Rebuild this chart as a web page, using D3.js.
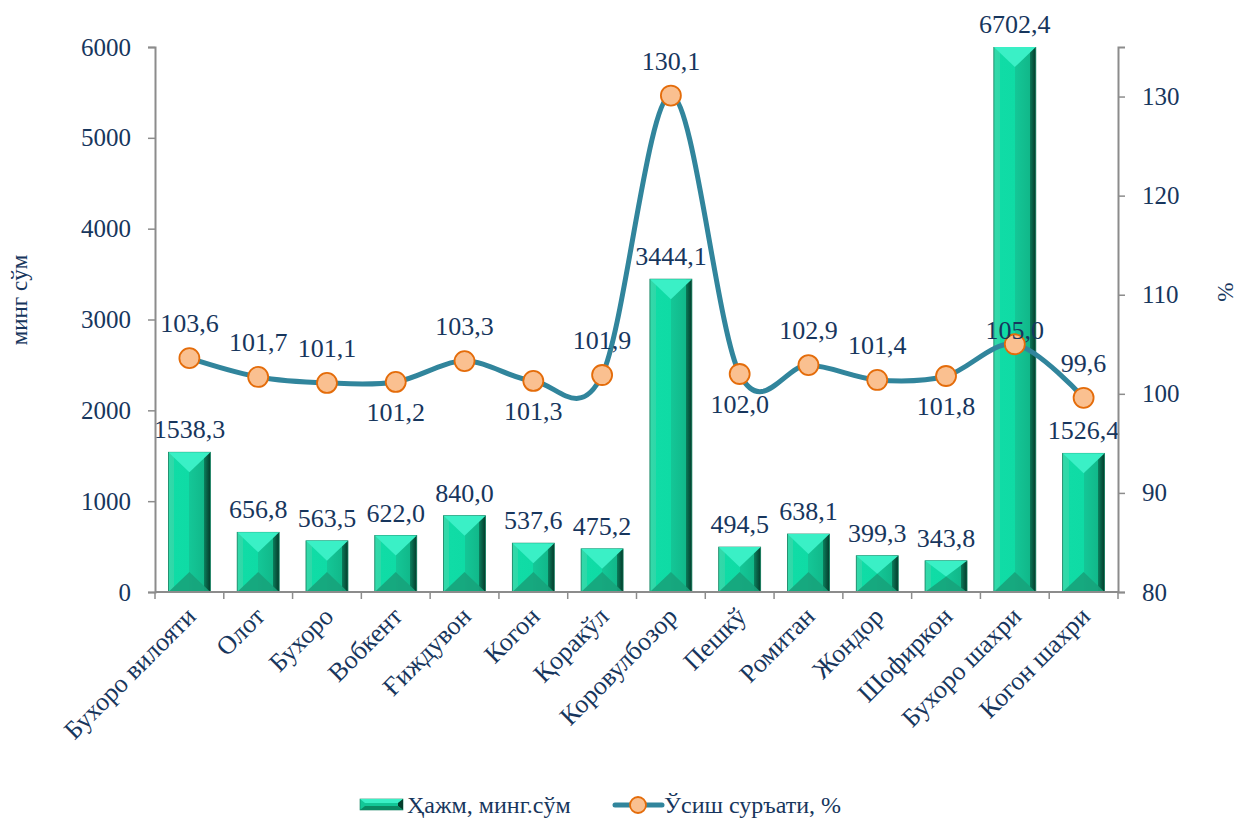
<!DOCTYPE html>
<html>
<head>
<meta charset="utf-8">
<script src="https://cdn.jsdelivr.net/npm/d3@7"></script>
<style>
  body { margin: 0; background: #fff; }
  svg text { font-family: "Liberation Serif", "Times New Roman", serif; fill: #17365d; }
</style>
</head>
<body>
<script>
// Districts (categories)
const districts = ["Бухоро вилояти", "Олот", "Бухоро", "Вобкент", "Ғиждувон", "Когон", "Қоракўл",
  "Коровулбозор", "Пешкў", "Ромитан", "Жондор", "Шофиркон", "Бухоро шахри", "Когон шахри"];

// Volume, thousand sum (bars)
const volume = [1538.3, 656.8, 563.5, 622.0, 840.0, 537.6, 475.2, 3444.1, 494.5, 638.1, 399.3, 343.8, 6702.4, 1526.4];

// Growth rate, % (line)
const growth = [103.6, 101.7, 101.1, 101.2, 103.3, 101.3, 101.9, 130.1, 102.0, 102.9, 101.4, 101.8, 105.0, 99.6];

// where each growth label sits relative to its marker
const growthLabelSide = ["up", "up", "up", "down", "up", "down", "up", "up", "down", "up", "up", "down", "near", "up"];

// Axis ticks
const leftTicks = [0, 1000, 2000, 3000, 4000, 5000, 6000];
const rightTicks = [80, 90, 100, 110, 120, 130];

const width = 1240;
const height = 824;
const margin = { top: 47, right: 122, bottom: 232, left: 155 };
const innerW = width - margin.left - margin.right;
const innerH = height - margin.top - margin.bottom;
const fontFam = "'Liberation Serif', 'Times New Roman', serif";
const textColor = "#17365d";

const svg = d3.select("body")
  .append("svg")
  .attr("width", width)
  .attr("height", height)
  .style("font-family", fontFam);

// gradient for the bevelled bars: light left rim, bright face, darker right half, dark rim
const defs = svg.append("defs");
const face = defs.append("linearGradient").attr("id", "barFace");
[["0%", "#34d9aa"], ["14%", "#2ed8a8"], ["14%", "#10dca6"], ["50%", "#0fdba5"],
 ["50%", "#14c797"], ["85%", "#11b88a"], ["85%", "#0b7e5c"], ["100%", "#043a2a"]]
  .forEach(s => face.append("stop").attr("offset", s[0]).attr("stop-color", s[1]));

defs.append("clipPath").attr("id", "plotClip")
  .append("rect").attr("x", 0).attr("y", 0).attr("width", innerW).attr("height", innerH);

const g = svg.append("g").attr("transform", `translate(${margin.left},${margin.top})`);

const x = d3.scaleBand()
  .domain(districts)
  .range([0, innerW])
  .paddingInner(0.39)
  .paddingOuter(0.195);

const yLeft = d3.scaleLinear().domain([0, 6000]).range([innerH, 0]);
const yRight = d3.scaleLinear().domain([80, 135]).range([innerH, 0]);

// Bars
const barData = districts.map((d, i) => ({ name: d, value: volume[i] }));
const bars = g.append("g").attr("clip-path", "url(#plotClip)")
  .selectAll("g.bar")
  .data(barData)
  .enter()
  .append("g")
  .attr("class", "bar");

bars.append("rect")
  .attr("x", d => x(d.name))
  .attr("y", d => Math.max(yLeft(d.value), 0))
  .attr("width", x.bandwidth())
  .attr("height", d => innerH - Math.max(yLeft(d.value), 0))
  .attr("fill", "url(#barFace)")
  .attr("stroke", "#0a7d5a")
  .attr("stroke-width", 0.8);

// top bevel (bright) and bottom bevel (darker)
const half = x.bandwidth() / 2;
const bevelDepth = d => Math.min(20, (innerH - Math.max(yLeft(d.value), 0)) / 2);
bars.append("path")
  .attr("d", d => {
    const x0 = x(d.name), x1 = x0 + x.bandwidth();
    const top = Math.max(yLeft(d.value), 0);
    return `M${x0},${top}L${x1},${top}L${x0 + half},${top + bevelDepth(d)}Z`;
  })
  .attr("fill", "#3af0c6");

bars.append("path")
  .attr("d", d => {
    const x0 = x(d.name), x1 = x0 + x.bandwidth();
    return `M${x0},${innerH}L${x1},${innerH}L${x0 + half},${innerH - bevelDepth(d)}Z`;
  })
  .attr("fill", "#17a37b")
  .attr("opacity", 0.9);

// Bar value labels
g.selectAll("text.barLabel")
  .data(barData)
  .enter()
  .append("text")
  .attr("class", "barLabel")
  .attr("x", d => x(d.name) + x.bandwidth() / 2)
  .attr("y", d => Math.max(yLeft(d.value), 0) - 14)
  .attr("text-anchor", "middle")
  .attr("font-size", 26)
  .text(d => d.value.toFixed(1).replace(".", ","));

// Axes
const axisColor = "#8c8c8c";
const xAxis = g.append("g")
  .attr("transform", `translate(0,${innerH})`);
xAxis.append("line").attr("x1", 0).attr("x2", innerW).attr("stroke", axisColor).attr("stroke-width", 2);
xAxis.selectAll("line.tick")
  .data(d3.range(districts.length + 1))
  .enter()
  .append("line")
  .attr("x1", i => i === districts.length ? innerW : x(districts[i]) - x.step() * x.paddingInner() / 2)
  .attr("x2", i => i === districts.length ? innerW : x(districts[i]) - x.step() * x.paddingInner() / 2)
  .attr("y1", 0).attr("y2", 7)
  .attr("stroke", axisColor).attr("stroke-width", 1.5);

xAxis.selectAll("text.cat")
  .data(districts)
  .enter()
  .append("text")
  .attr("class", "cat")
  .attr("transform", d => `translate(${x(d) + x.bandwidth() / 2 + 8},${26}) rotate(-45)`)
  .attr("text-anchor", "end")
  .attr("font-size", 26)
  .text(d => d);

const leftAxis = g.append("g")
  .call(d3.axisLeft(yLeft).tickValues(leftTicks).tickSize(7).tickPadding(17).tickFormat(d3.format("d")));
const rightAxis = g.append("g")
  .attr("transform", `translate(${innerW},0)`)
  .call(d3.axisRight(yRight).tickValues(rightTicks).tickSize(7).tickPadding(17).tickFormat(d3.format("d")));

[leftAxis, rightAxis].forEach(a => {
  a.attr("font-family", null);
  a.select(".domain").attr("stroke", axisColor).attr("stroke-width", 2);
  a.selectAll(".tick line").attr("stroke", axisColor).attr("stroke-width", 1.5);
  a.selectAll(".tick text")
    .attr("font-size", 25)
    .style("font-family", fontFam)
    .attr("fill", textColor);
});

// Axis titles
svg.append("text")
  .attr("transform", `translate(27,300) rotate(-90)`)
  .attr("text-anchor", "middle")
  .attr("font-size", 23)
  .text("минг сўм");

svg.append("text")
  .attr("transform", `translate(1218,292) rotate(90)`)
  .attr("text-anchor", "middle")
  .attr("font-size", 23)
  .text("%");

// Growth line
const lineColor = "#31859c";
const line = d3.line()
  .x((d, i) => x(districts[i]) + x.bandwidth() / 2)
  .y(d => yRight(d))
  .curve(d3.curveCatmullRom.alpha(0));

g.append("path")
  .datum(growth)
  .attr("d", line)
  .attr("fill", "none")
  .attr("stroke", lineColor)
  .attr("stroke-width", 5);

g.selectAll("circle.pt")
  .data(growth)
  .enter()
  .append("circle")
  .attr("class", "pt")
  .attr("cx", (d, i) => x(districts[i]) + x.bandwidth() / 2)
  .attr("cy", d => yRight(d))
  .attr("r", 10)
  .attr("fill", "#fac090")
  .attr("stroke", "#e46c0a")
  .attr("stroke-width", 1.8);

const labelOffset = { up: -26, down: 39, near: -5 };
g.selectAll("text.growthLabel")
  .data(growth)
  .enter()
  .append("text")
  .attr("class", "growthLabel")
  .attr("x", (d, i) => x(districts[i]) + x.bandwidth() / 2)
  .attr("y", (d, i) => yRight(d) + labelOffset[growthLabelSide[i]])
  .attr("text-anchor", "middle")
  .attr("font-size", 26)
  .text(d => d.toFixed(1).replace(".", ","));

// Legend
const legend = svg.append("g").attr("transform", "translate(0,805)");
const legBar = legend.append("g");
legBar.append("rect")
  .attr("x", 360).attr("y", -6).attr("width", 43).attr("height", 11)
  .attr("fill", "#13c797").attr("stroke", "#0a7d5a").attr("stroke-width", 0.6);
legBar.append("path")
  .attr("d", "M360,-6L403,-6L398,-2L365,-2Z").attr("fill", "#3af0c6");
legBar.append("path")
  .attr("d", "M403,-6L403,5L398,1L398,-2Z").attr("fill", "#053d2c");
legBar.append("path")
  .attr("d", "M360,5L403,5L398,1L365,1Z").attr("fill", "#0b8a64");
legend.append("text")
  .attr("x", 407).attr("y", 8)
  .attr("font-size", 24)
  .text("Ҳажм, минг.сўм");

legend.append("line")
  .attr("x1", 615).attr("x2", 662).attr("y1", 0).attr("y2", 0)
  .attr("stroke", lineColor).attr("stroke-width", 5).attr("stroke-linecap", "round");
legend.append("circle")
  .attr("cx", 638).attr("cy", 0).attr("r", 8)
  .attr("fill", "#fac090").attr("stroke", "#e46c0a").attr("stroke-width", 1.8);
legend.append("text")
  .attr("x", 664).attr("y", 8)
  .attr("font-size", 24)
  .text("Ўсиш суръати, %");
</script>
</body>
</html>
